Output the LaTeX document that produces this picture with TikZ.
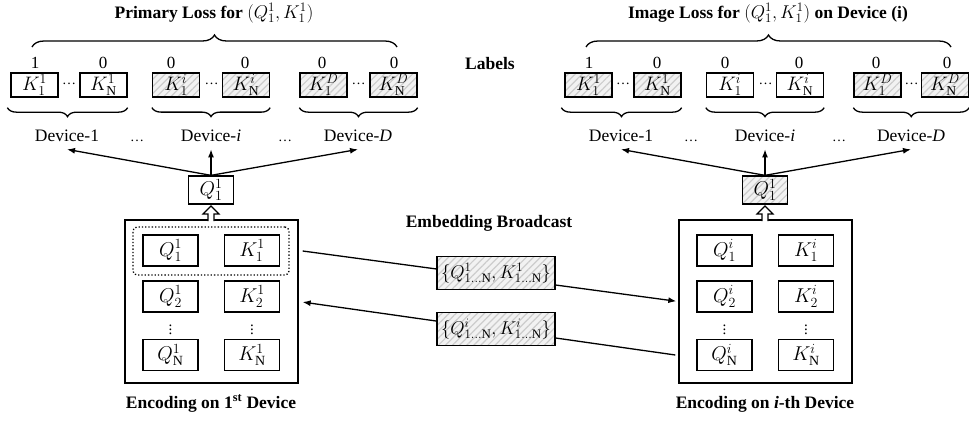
\documentclass[tikz,border=0pt]{standalone}
\usepackage{fix-cm}
\usepackage{fontspec}
\setmainfont{Liberation Serif}
\usetikzlibrary{arrows.meta,patterns.meta,decorations.pathreplacing,calc}
\newcommand{\fsz}[1]{\fontsize{#1}{#1}\selectfont}
\newcommand{\ttlmath}[1]{{\fsz{18.5}$#1$}}
\tikzset{
  kbox/.style={draw, line width=1.3pt, minimum width=47pt, minimum height=24pt, inner sep=0pt, font=\fsz{19.5}},
  qbox/.style={draw, line width=1.3pt, minimum width=55pt, minimum height=31pt, inner sep=0pt, font=\fsz{20}},
  topq/.style={draw, line width=1.3pt, minimum width=45pt, minimum height=28pt, inner sep=0pt, font=\fsz{20}},
  bbox/.style={draw, line width=1.3pt, minimum width=118pt, minimum height=33pt, inner sep=0pt, font=\fsz{18.5}},
  encbox/.style={draw, line width=1.4pt, minimum width=173pt, minimum height=163pt, inner sep=0pt},
  hatch/.style={preaction={fill=gray!10}, pattern={Lines[angle=45,distance=5pt,line width=1.2pt]}, pattern color=gray!40},
  digit/.style={anchor=base, inner sep=0pt, font=\fsz{17}},
  dots/.style={anchor=base, inner sep=0pt, font=\fsz{14}},
  devlbl/.style={anchor=base, inner xsep=0pt, inner ysep=8pt, font=\fsz{17.5}},
  bold/.style={anchor=base, inner sep=0pt, font=\fsz{17.5}\bfseries},
  ttl/.style={anchor=base, inner sep=0pt, font=\fsz{17.5}\bfseries},
  vd/.style={inner sep=0pt, font=\fsz{15}},
  arr/.style={-{Latex[length=8pt,width=6pt]}, line width=1.3pt},
  bracedn/.style={decorate, decoration={brace, amplitude=9pt, mirror}, line width=1.3pt},
  braceup/.style={decorate, decoration={brace, amplitude=12pt}, line width=1.3pt},
  hollowup/.pic={\draw[line width=1.2pt, fill=white] (-3,0) -- (-3,-7) -- (-8,-7) -- (0,-15) -- (8,-7) -- (3,-7) -- (3,0);}
}
\begin{document}
\begin{tikzpicture}[x=1pt,y=-1pt]
\useasboundingbox (0,0) rectangle (969,423);

% ---------------- titles ----------------
\node[ttl] (tl) at (214,18) {Primary Loss for \ttlmath{(Q_1^1,K_1^1)}};
\node[ttl] (tr) at (768,18) {Image Loss for \ttlmath{(Q_1^1,K_1^1)} on Device (i)};
\node[bold] (lab) at (490,69) {Labels};

% ---------------- left top row ----------------
\node[kbox] (l11) at (34.5,85) {$K_1^1$};
\node[kbox] (l1N) at (103.5,85) {$K_{\mathrm{N}}^1$};
\node[kbox,hatch] (li1) at (176,85) {$K_1^i$};
\node[kbox,hatch] (liN) at (246,85) {$K_{\mathrm{N}}^i$};
\node[kbox,hatch] (lD1) at (323.5,85) {$K_1^D$};
\node[kbox,hatch] (lDN) at (393.5,85) {$K_{\mathrm{N}}^D$};
\node[dots] (ldt1) at (69,84) {…};
\node[dots] (ldt2) at (211.5,84) {…};
\node[dots] (ldt3) at (358.5,84) {…};
\node[digit] (ld01) at (35,68) {1};
\node[digit] (ld02) at (103,68) {0};
\node[digit] (ld03) at (171,68) {0};
\node[digit] (ld04) at (245,68) {0};
\node[digit] (ld05) at (322,68) {0};
\node[digit] (ld06) at (394,68) {0};
\draw[braceup] (32,47) -- (397,47);
\draw[bracedn] ($(l11.south west)+(-3,10)$) -- ($(l1N.south east)+(0,10)$);
\draw[bracedn] ($(li1.south west)+(0,10)$) -- ($(liN.south east)+(0,10)$);
\draw[bracedn] ($(lD1.south west)+(0,10)$) -- ($(lDN.south east)+(0,10)$);
\node[devlbl] (ldev1) at (67,141) {Device-1};
\node[devlbl] (ldevi) at (211,141) {Device-\textit{i}};
\node[devlbl] (ldevD) at (358,141) {Device-\textit{D}};
\node[dots] (ldd1) at (137,141) {…};
\node[dots] (ldd2) at (285,141) {…};

% ---------------- right top row ----------------
\node[kbox,hatch] (r11) at (588.5,85) {$K_1^1$};
\node[kbox,hatch] (r1N) at (657.5,85) {$K_{\mathrm{N}}^1$};
\node[kbox] (ri1) at (730,85) {$K_1^i$};
\node[kbox] (riN) at (800,85) {$K_{\mathrm{N}}^i$};
\node[kbox,hatch] (rD1) at (877.5,85) {$K_1^D$};
\node[kbox,hatch] (rDN) at (945,85) {$K_{\mathrm{N}}^D$};
\node[dots] (rdt1) at (623,84) {…};
\node[dots] (rdt2) at (765.5,84) {…};
\node[dots] (rdt3) at (911.5,84) {…};
\node[digit] (rd01) at (589,68) {1};
\node[digit] (rd02) at (657,68) {0};
\node[digit] (rd03) at (725,68) {0};
\node[digit] (rd04) at (799,68) {0};
\node[digit] (rd05) at (876,68) {0};
\node[digit] (rd06) at (947,68) {0};
\draw[braceup] (586,47) -- (951,47);
\draw[bracedn] ($(r11.south west)+(-3,10)$) -- ($(r1N.south east)+(0,10)$);
\draw[bracedn] ($(ri1.south west)+(0,10)$) -- ($(riN.south east)+(0,10)$);
\draw[bracedn] ($(rD1.south west)+(0,10)$) -- ($(rDN.south east)+(0,10)$);
\node[devlbl] (rdev1) at (621,141) {Device-1};
\node[devlbl] (rdevi) at (765,141) {Device-\textit{i}};
\node[devlbl] (rdevD) at (911,141) {Device-\textit{D}};
\node[dots] (rdd1) at (691,141) {…};
\node[dots] (rdd2) at (839,141) {…};

% ---------------- query boxes and fan-out arrows ----------------
\node[topq] (lq) at (211,190) {$Q_1^1$};
\node[topq,hatch] (rq) at (765,190) {$Q_1^1$};
\draw[arr] (lq.north) -- (ldev1.south);
\draw[arr] (lq.north) -- (ldevi.south);
\draw[arr] (lq.north) -- (ldevD.south);
\draw[arr] (rq.north) -- (rdev1.south);
\draw[arr] (rq.north) -- (rdevi.south);
\draw[arr] (rq.north) -- (rdevD.south);

% ---------------- encoding boxes ----------------
\node[encbox] (lenc) at (211.5,301.5) {};
\node[encbox] (renc) at (765.5,301.5) {};
\pic at (211,221) {hollowup};
\pic at (765,221) {hollowup};
\node[draw, dotted, line width=1.3pt, rounded corners=4pt, minimum width=156pt, minimum height=48pt] (ldot) at (211,251) {};

\node[qbox] (lq1) at (170.5,250.5) {$Q_1^1$};
\node[qbox] (lk1) at (252,250.5) {$K_1^1$};
\node[qbox] (lq2) at (170.5,296.5) {$Q_2^1$};
\node[qbox] (lk2) at (252,296.5) {$K_2^1$};
\node[vd] (lvq) at (170.5,327) {$\vdots$};
\node[vd] (lvk) at (252,327) {$\vdots$};
\node[qbox] (lqN) at (170.5,355) {$Q_{\mathrm{N}}^1$};
\node[qbox] (lkN) at (252,355) {$K_{\mathrm{N}}^1$};

\node[qbox] (rq1) at (724.5,250.5) {$Q_1^i$};
\node[qbox] (rk1) at (806,250.5) {$K_1^i$};
\node[qbox] (rq2) at (724.5,296.5) {$Q_2^i$};
\node[qbox] (rk2) at (806,296.5) {$K_2^i$};
\node[vd] (rvq) at (724.5,327) {$\vdots$};
\node[vd] (rvk) at (806,327) {$\vdots$};
\node[qbox] (rqN) at (724.5,355) {$Q_{\mathrm{N}}^i$};
\node[qbox] (rkN) at (806,355) {$K_{\mathrm{N}}^i$};

% ---------------- broadcast ----------------
\node[bold] (emb) at (489,227) {Embedding Broadcast};
\coordinate (s1) at ($(lenc.east |- ldot.east)+(4,0)$);
\coordinate (s2) at ($(renc.west |- rqN.west)+(-3,0)$);
\draw[arr, shorten >=2pt] (s1) -- (renc.west);
\draw[arr, shorten >=4pt] (s2) -- (lenc.east);
\node[bbox,hatch] (b1) at (496,273) {$\big\{Q^1_{1\ldots\mathrm{N}},K^1_{1\ldots\mathrm{N}}\big\}$};
\node[bbox,hatch] (b2) at (496,329) {$\big\{Q^i_{1\ldots\mathrm{N}},K^i_{1\ldots\mathrm{N}}\big\}$};

% ---------------- captions ----------------
\node[bold] (capl) at (211,408) {Encoding on 1\textsuperscript{st} Device};
\node[bold] (capr) at (765,408) {Encoding on \textit{i}-th Device};
\end{tikzpicture}
\end{document}
